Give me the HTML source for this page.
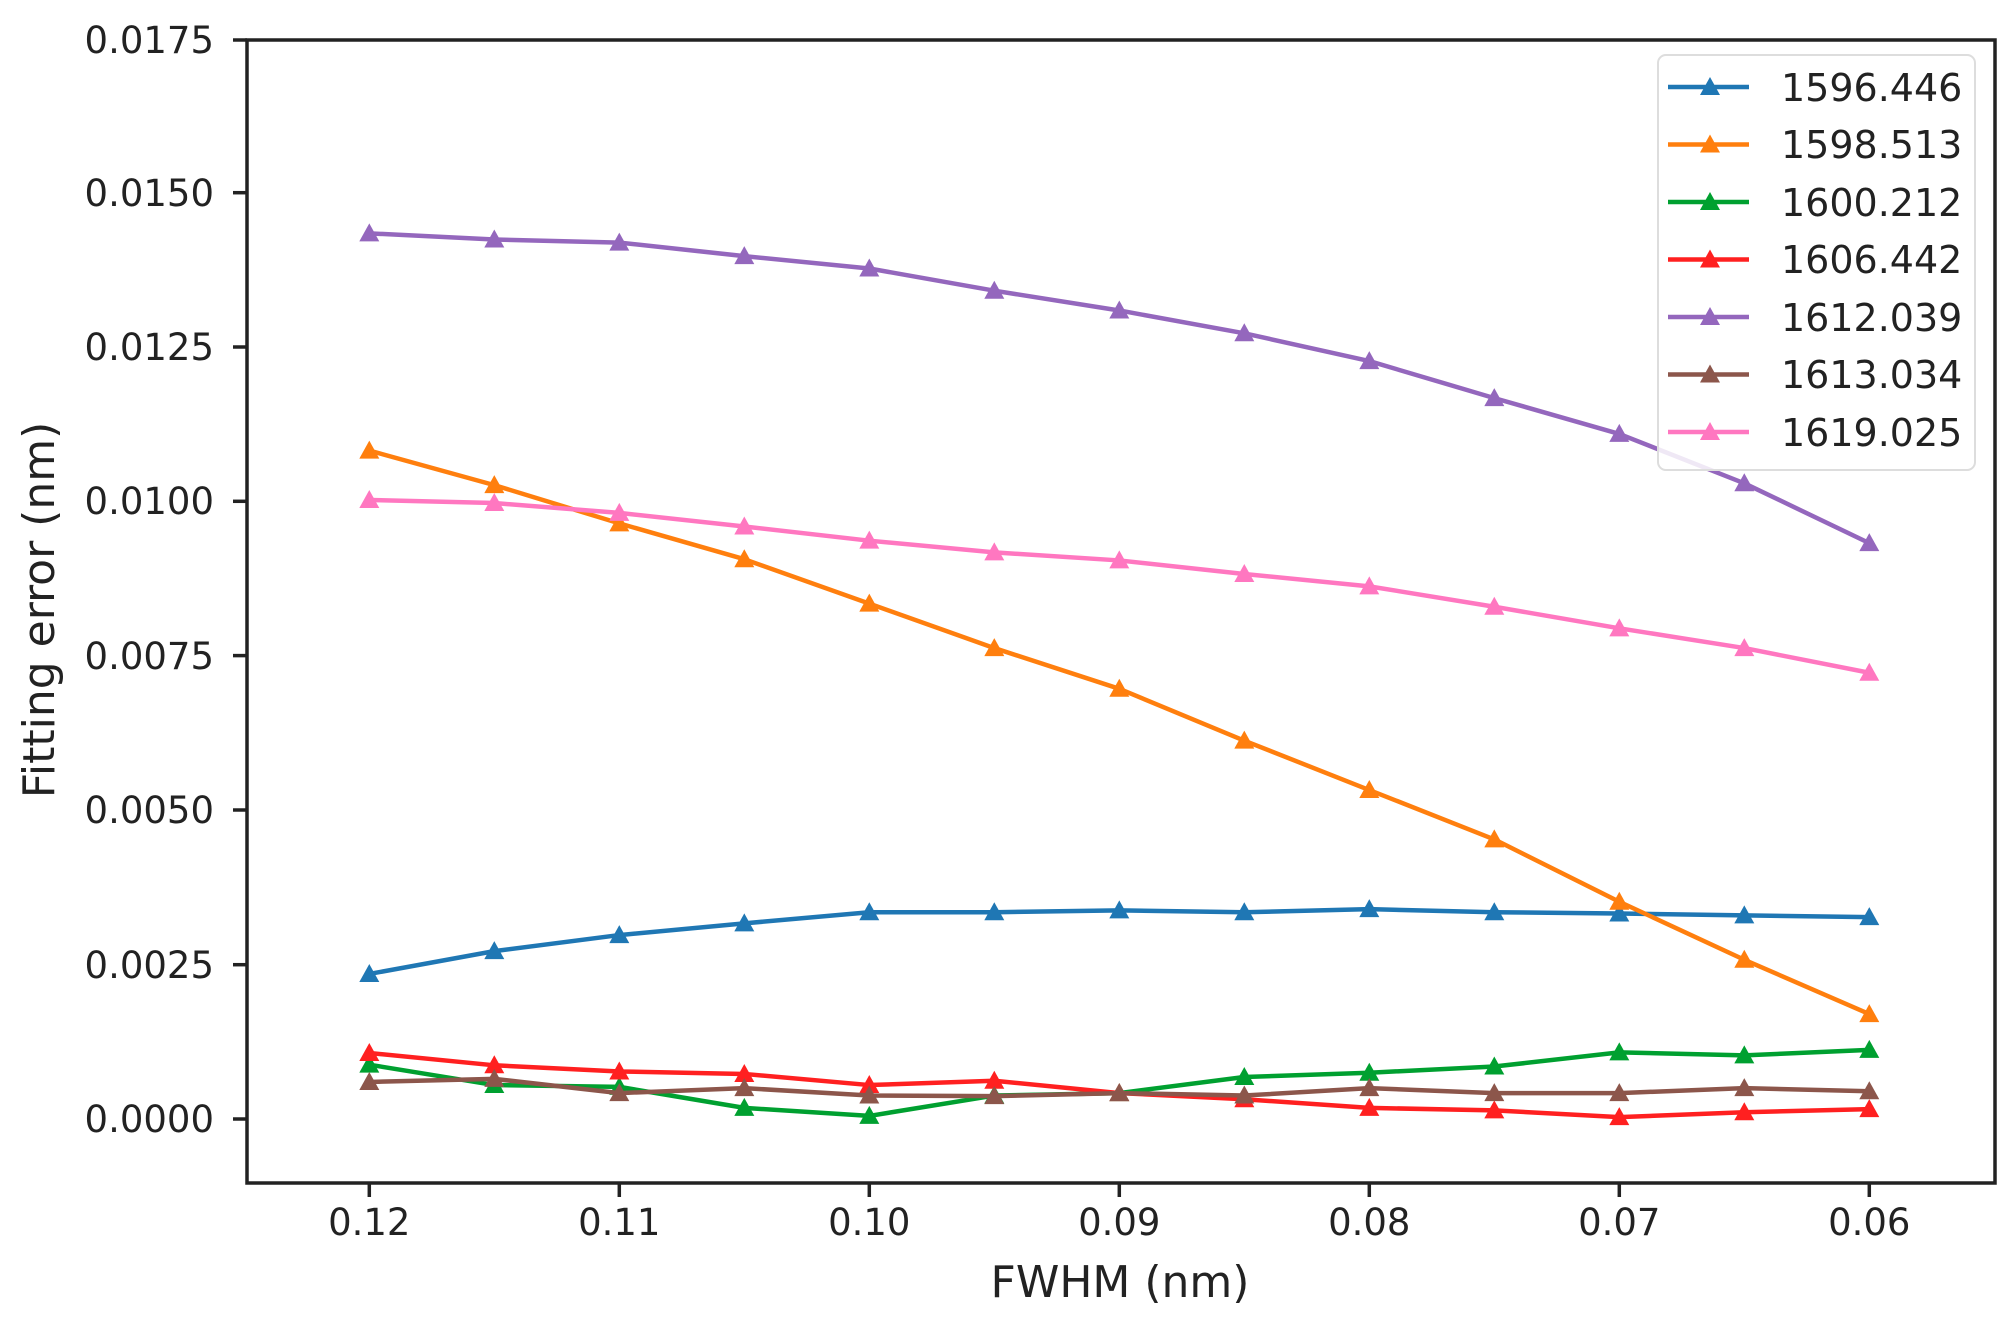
<!DOCTYPE html>
<html><head><meta charset="utf-8"><style>
html,body{margin:0;padding:0;background:#fff}
svg{display:block}
text{font-family:"DejaVu Sans","Liberation Sans",sans-serif;fill:#222}
</style></head><body>
<svg id="s" width="2013" height="1319" viewBox="0 0 2013 1319" xmlns="http://www.w3.org/2000/svg">
<rect x="0" y="0" width="2013" height="1319" fill="#fff"/>
<g id="series"></g>
<rect x="247" y="40" width="1748" height="1143" fill="none" stroke="#222" stroke-width="3.5"/>
<g stroke="#222" stroke-width="3.5">
<line x1="233" y1="40" x2="247" y2="40"/><line x1="233" y1="192.7" x2="247" y2="192.7"/>
<line x1="233" y1="347" x2="247" y2="347"/><line x1="233" y1="501.3" x2="247" y2="501.3"/>
<line x1="233" y1="655.6" x2="247" y2="655.6"/><line x1="233" y1="810" x2="247" y2="810"/>
<line x1="233" y1="964.7" x2="247" y2="964.7"/><line x1="233" y1="1119" x2="247" y2="1119"/>
<line x1="369.3" y1="1183" x2="369.3" y2="1197"/><line x1="619.3" y1="1183" x2="619.3" y2="1197"/>
<line x1="869.3" y1="1183" x2="869.3" y2="1197"/><line x1="1119.3" y1="1183" x2="1119.3" y2="1197"/>
<line x1="1369.3" y1="1183" x2="1369.3" y2="1197"/><line x1="1619.3" y1="1183" x2="1619.3" y2="1197"/>
<line x1="1869.3" y1="1183" x2="1869.3" y2="1197"/>
</g>
<g font-size="37" text-anchor="end">
<text x="214" y="53">0.0175</text><text x="214" y="206">0.0150</text>
<text x="214" y="360">0.0125</text><text x="214" y="514">0.0100</text>
<text x="214" y="669">0.0075</text><text x="214" y="823">0.0050</text>
<text x="214" y="978">0.0025</text><text x="214" y="1132">0.0000</text>
</g>
<g font-size="37" text-anchor="middle">
<text x="369.3" y="1235">0.12</text><text x="619.3" y="1235">0.11</text>
<text x="869.3" y="1235">0.10</text><text x="1119.3" y="1235">0.09</text>
<text x="1369.3" y="1235">0.08</text><text x="1619.3" y="1235">0.07</text>
<text x="1869.3" y="1235">0.06</text>
</g>
<text x="1120" y="1297" font-size="44" text-anchor="middle">FWHM (nm)</text>
<text transform="translate(54,610) rotate(-90)" font-size="44" text-anchor="middle">Fitting error (nm)</text>
<rect x="1658" y="55" width="317" height="415" rx="8" fill="#fff" fill-opacity="0.85" stroke="#ddd" stroke-width="2"/>
<g id="leg"></g>
<g font-size="38">
<text x="1781" y="101">1596.446</text><text x="1781" y="158">1598.513</text>
<text x="1781" y="216">1600.212</text><text x="1781" y="273">1606.442</text>
<text x="1781" y="331">1612.039</text><text x="1781" y="388">1613.034</text>
<text x="1781" y="446">1619.025</text>
</g>
</svg>
<script>
var D=[
["#1f77b4",[2.35,2.72,2.98,3.17,3.35,3.35,3.38,3.35,3.40,3.35,3.33,3.30,3.27]],
["#ff7f0e",[10.83,10.27,9.65,9.07,8.35,7.63,6.97,6.13,5.33,4.53,3.52,2.58,1.70]],
["#00a030",[0.88,0.55,0.52,0.18,0.05,0.38,0.42,0.68,0.75,0.85,1.08,1.03,1.12]],
["#ff2020",[1.07,0.87,0.77,0.73,0.55,0.62,0.42,0.32,0.18,0.14,0.03,0.11,0.16]],
["#9467bd",[14.35,14.25,14.2,13.98,13.78,13.42,13.1,12.73,12.28,11.68,11.1,10.3,9.33]],
["#8c564b",[0.60,0.65,0.42,0.50,0.38,0.37,0.42,0.38,0.50,0.42,0.42,0.50,0.45]],
["#ff77c0",[10.03,9.98,9.82,9.6,9.37,9.18,9.05,8.83,8.63,8.3,7.95,7.63,7.23]]];
var order=[0,1,4,6,2,3,5];
function tri(x,y){return '<polygon points="'+(x-10)+','+(y+8)+' '+(x+10)+','+(y+8)+' '+x+','+(y-10)+'"/>';}
var h='';
order.forEach(function(k){var c=D[k][0],v=D[k][1],p=[],m='';
v.forEach(function(a,i){var x=369.3+i*125,y=1119-a*61.72;p.push(x+','+y);m+=tri(x,y);});
h+='<polyline points="'+p.join(' ')+'" fill="none" stroke="'+c+'" stroke-width="4.5" stroke-linejoin="round"/><g fill="'+c+'">'+m+'</g>';});
document.getElementById('series').innerHTML=h;
var l='';
D.forEach(function(d,i){var y=87+i*57.5;l+='<line x1="1668" y1="'+y+'" x2="1749" y2="'+y+'" stroke="'+d[0]+'" stroke-width="4.5"/><g fill="'+d[0]+'">'+tri(1710,y)+'</g>';});
document.getElementById('leg').innerHTML=l;
</script>
</body></html>
